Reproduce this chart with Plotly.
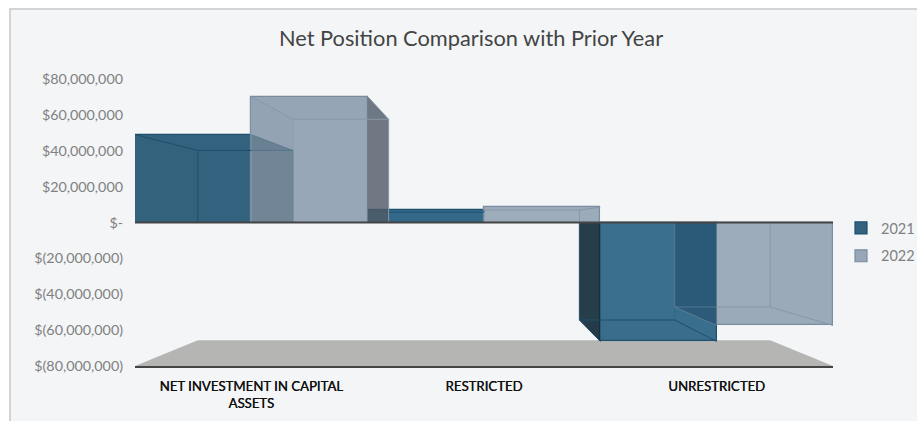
import plotly.graph_objects as go

categories = ["NET INVESTMENT IN CAPITAL<br>ASSETS", "RESTRICTED", "UNRESTRICTED"]
values_2021 = [49000000, 7000000, -66300000]
values_2022 = [70200000, 8500000, -57400000]
tick_values = [80000000, 60000000, 40000000, 20000000, 0, -20000000, -40000000, -60000000, -80000000]
tick_labels = ["$80,000,000", "$60,000,000", "$40,000,000", "$20,000,000", "$-",
               "$(20,000,000)", "$(40,000,000)", "$(60,000,000)", "$(80,000,000)"]

BG = "#f3f5f7"
DEPTH = 0.18
VP_X = 1.0
BAR_W = 0.5
FONT = "Lato"
W, H = 917, 421
ML, MR, MT, MB = 135, 84, 79, 55
PW, PH = W - ML - MR, H - MT - MB

front_2021 = ["#33627e", "#35698a", "#3b6f8e"]
front_2022 = ["#98a7b7", "#9eadbc", "#9dacbb"]
styles = {
    "2021": dict(line="#1d4f6d", faint="rgba(29,79,109,0.25)", flat="rgba(51,98,126,0.10)",
                 near_out="rgba(45,70,90,0.32)", near_in="rgba(51,98,126,0.04)",
                 far_out="rgba(21,45,59,0.92)", far_in="rgba(51,98,126,0.05)"),
    "2022": dict(line="#8898a8", faint="rgba(136,152,168,0.45)", flat="rgba(120,135,150,0.05)",
                 near_out="rgba(20,60,90,0.40)", near_in="rgba(40,60,85,0.03)",
                 far_out="rgba(79,90,101,0.80)", far_in="rgba(120,135,150,0.05)"),
}


def face(pts, fill, line, width=1.0):
    xs = [p[0] for p in pts] + [pts[0][0]]
    ys = [p[1] for p in pts] + [pts[0][1]]
    return go.Scatter(x=xs, y=ys, mode="lines", fill="toself", fillcolor=fill,
                      line=dict(color=line, width=width), hoverinfo="skip", showlegend=False)


def edge(pts, line, width=1.0):
    return go.Scatter(x=[p[0] for p in pts], y=[p[1] for p in pts], mode="lines",
                      line=dict(color=line, width=width), hoverinfo="skip", showlegend=False)


def back(x, y):
    return x + (VP_X - x) * DEPTH, y * (1 - DEPTH)


def wall_traces(name, values, offset):
    st = styles[name]
    clear = "rgba(0,0,0,0)"
    out = []
    for i, v in enumerate(values):
        x0, x1 = i + offset, i + offset + BAR_W
        bx0, by = back(x0, v)
        bx1, _ = back(x1, v)
        bz0, _ = back(x0, 0)
        bz1, _ = back(x1, 0)
        out.append(face([(x0, v), (x1, v), (bx1, by), (bx0, by)], st["flat"], clear))
        if name == "2021":
            near_outward = bx1 > x1
            far_outward = bx0 < x0
            near_pts = [(x1, 0), (x1, v), (bx1, by), (bz1, 0)]
            far_pts = [(x0, 0), (x0, v), (bx0, by), (bz0, 0)]
            far_edge_x, near_edge_x = bx0, bx1
            seam = min(bx1, x1)
        else:
            near_outward = bx0 < x0
            far_outward = bx1 > x1
            near_pts = [(x0, 0), (x0, v), (bx0, by), (bz0, 0)]
            far_pts = [(x1, 0), (x1, v), (bx1, by), (bz1, 0)]
            far_edge_x, near_edge_x = bx1, bx0
            seam = max(bx0, x0)
        out.append(face(near_pts, st["near_out"] if near_outward else st["near_in"], clear))
        out.append(face(far_pts, st["far_out"] if far_outward else st["far_in"], clear))
        # far edges of the box stay crisp, edges hidden behind the neighbouring bar fade
        out.append(edge([(far_pts[1]), (far_edge_x, by), (seam, by)], st["line"]))
        out.append(edge([(far_edge_x, 0), (far_edge_x, by)], st["line"]))
        out.append(edge([(seam, by), (near_edge_x, by), (near_edge_x, 0)], st["faint"]))
        out.append(edge([near_pts[1], (near_edge_x, by)], st["faint"] if near_outward else st["line"]))
    return out


fig = go.Figure()
x_pos = list(range(len(categories)))
fig.add_trace(go.Bar(name="2021", x=x_pos, y=values_2021, legendgroup="a",
                     marker=dict(color=front_2021, line=dict(color="#1d4f6d", width=1.2))))
fig.add_trace(go.Bar(name="2022", x=x_pos, y=values_2022, legendgroup="b",
                     marker=dict(color=front_2022, line=dict(color="#7b8da0", width=1.2))))
for t in wall_traces("2021", values_2021, -0.5) + wall_traces("2022", values_2022, 0.0):
    fig.add_trace(t)

fx0, fy = back(-0.5, tick_values[-1])
fx1, _ = back(2.5, tick_values[-1])
floor_path = f"M -0.5 {tick_values[-1]} L 2.5 {tick_values[-1]} L {fx1} {fy} L {fx0} {fy} Z"

fig.update_layout(
    width=W, height=H,
    margin=dict(l=ML, r=MR, t=MT, b=MB, autoexpand=False),
    paper_bgcolor="#ffffff", plot_bgcolor=BG,
    barmode="group", bargap=0, bargroupgap=0,
    title=dict(text="Net Position Comparison with Prior Year", x=471 / W, xanchor="center", xref="container",
               y=0.91, yanchor="middle", font=dict(family=FONT, size=21.8, color="#444444")),
    font=dict(family=FONT),
    xaxis=dict(range=[-0.5, 2.5], tickvals=x_pos, ticktext=categories, showgrid=False, zeroline=False,
               showline=True, linecolor="#444444", linewidth=2, ticks="", tickangle=0, ticklabelstandoff=7,
               tickfont=dict(family=FONT, size=13.2, color="#111111", shadow="0.3px 0 0 #111111")),
    yaxis=dict(range=[tick_values[-1], tick_values[0]], tickvals=tick_values, ticktext=tick_labels,
               showgrid=False, zeroline=False, showline=False, ticks="", ticklabelstandoff=11,
               tickfont=dict(family=FONT, size=14.3, color="#808080")),
    legend=dict(xref="container", yref="container", x=(862 - 21) / W, y=1 - 212 / H, xanchor="left", yanchor="top",
                bgcolor="rgba(0,0,0,0)", font=dict(family=FONT, size=14.5, color="#808080"),
                traceorder="grouped", tracegroupgap=6, itemwidth=30),
    shapes=[
        dict(type="rect", xref="paper", yref="paper", x0=(10 - ML) / PW, x1=(W + 5 - ML) / PW,
             y0=(H - MB - H - 5) / PH, y1=(H - MB - 9) / PH, fillcolor=BG,
             line=dict(color="#c6c8ca", width=1.5), layer="below"),
        dict(type="path", path=floor_path, xref="x", yref="y", fillcolor="#b5b6b4", line=dict(width=0), layer="below"),
        dict(type="line", xref="paper", x0=0, x1=1, yref="y", y0=0, y1=0, line=dict(color="#444444", width=2), layer="above"),
    ],
)
fig.write_html("out.html", config={"displayModeBar": False}, post_script="document.body.style.margin='0';")
